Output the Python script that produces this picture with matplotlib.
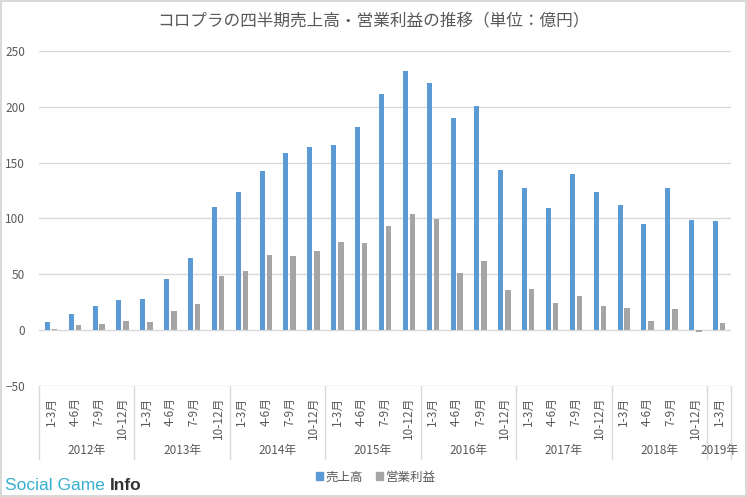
import numpy as np
import matplotlib
matplotlib.use("Agg")
import matplotlib.pyplot as plt
from matplotlib.patches import Patch

plt.rcParams['font.family'] = ['Noto Sans CJK JP', 'DejaVu Sans']

years = ["2012年", "2013年", "2014年", "2015年", "2016年", "2017年", "2018年", "2019年"]
quarters_per_year = [4, 4, 4, 4, 4, 4, 4, 1]
months = ["1-3月", "4-6月", "7-9月", "10-12月"]

sales = [7.4, 14.6, 21.7, 27.1,
         28.0, 45.8, 64.6, 110.1,
         123.5, 142.3, 158.3, 163.7,
         165.5, 181.5, 211.9, 232.1,
         221.4, 190.2, 200.9, 143.8,
         127.7, 109.2, 139.6, 123.5,
         111.9, 94.9, 127.1, 98.5,
         97.6]
profit = [1.2, 4.8, 5.7, 8.3,
          7.4, 17.3, 23.5, 48.5,
          53.0, 67.3, 66.4, 70.8,
          78.9, 78.0, 93.2, 103.9,
          99.4, 50.9, 61.9, 36.0,
          36.9, 24.4, 30.7, 21.7,
          19.9, 8.3, 19.0, -1.8,
          6.5]

blue = "#5B9BD5"
gray = "#A5A5A5"
text_color = "#595959"
line_color = "#D9D9D9"

W, H = 747, 497
fig = plt.figure(figsize=(W / 100, H / 100), dpi=100)
fig.patch.set_edgecolor(line_color)
fig.patch.set_linewidth(1.5)

ax = fig.add_axes([39 / W, 1 - 386 / H, 692 / W, 335 / H])
x = np.arange(len(sales))
ax.bar(x - 0.15, sales, width=0.21, color=blue, zorder=3)
ax.bar(x + 0.15, profit, width=0.23, color=gray, zorder=3)

ax.set_xlim(-0.5, len(sales) - 0.5)
ax.set_ylim(-50, 250)
ax.set_yticks(np.arange(-50, 251, 50))
ax.grid(axis='y', color=line_color, linewidth=1, zorder=0)
for s in ax.spines.values():
    s.set_visible(False)
ax.tick_params(axis='y', length=0, pad=10, labelsize=8.5, labelcolor=text_color)
ax.set_xticks([])

# two-level category labels under the plot
labels = []
for n in quarters_per_year:
    labels += months[:n]
trans = ax.get_xaxis_transform()
for i, lab in enumerate(labels):
    ax.text(i, -0.032, lab, rotation=90, ha='center', va='top', fontsize=8.5,
            color=text_color, transform=trans)

start = 0
bounds = [-0.5]
for yr, n in zip(years, quarters_per_year):
    mid = start + (n - 1) / 2
    ax.text(mid, -0.194, yr, ha='center', va='center', fontsize=8.5,
            color=text_color, transform=trans)
    start += n
    bounds.append(start - 0.5)
for b in bounds:
    ax.plot([b, b], [0, -0.218], color=line_color, linewidth=1,
            transform=trans, clip_on=False)

fig.text(0.5, 1 - 22 / H, "コロプラの四半期売上高・営業利益の推移（単位：億円）",
         ha='center', va='center', fontsize=12, color=text_color)

handles = [Patch(color=blue, label="売上高"), Patch(color=gray, label="営業利益")]
fig.legend(handles=handles, loc='center', bbox_to_anchor=(0.503, 1 - 477 / H), ncol=2,
           frameon=False, fontsize=9, handlelength=0.6, handleheight=0.6,
           handletextpad=0.2, columnspacing=1.0, labelcolor=text_color)

# watermark
wm_font = ['Liberation Sans', 'DejaVu Sans']
t1 = fig.text(5 / W, 1 - 490 / H, "Social Game ", fontsize=12.5, color="#35AFCF",
              family=wm_font, va='baseline')
ax.annotate("Info", xy=(1, 0), xycoords=t1, va='bottom', ha='left', fontsize=12.5,
            color="#333333", weight='bold', family=wm_font,
            annotation_clip=False)

fig.savefig("out.png", dpi=100, edgecolor=fig.get_edgecolor())
